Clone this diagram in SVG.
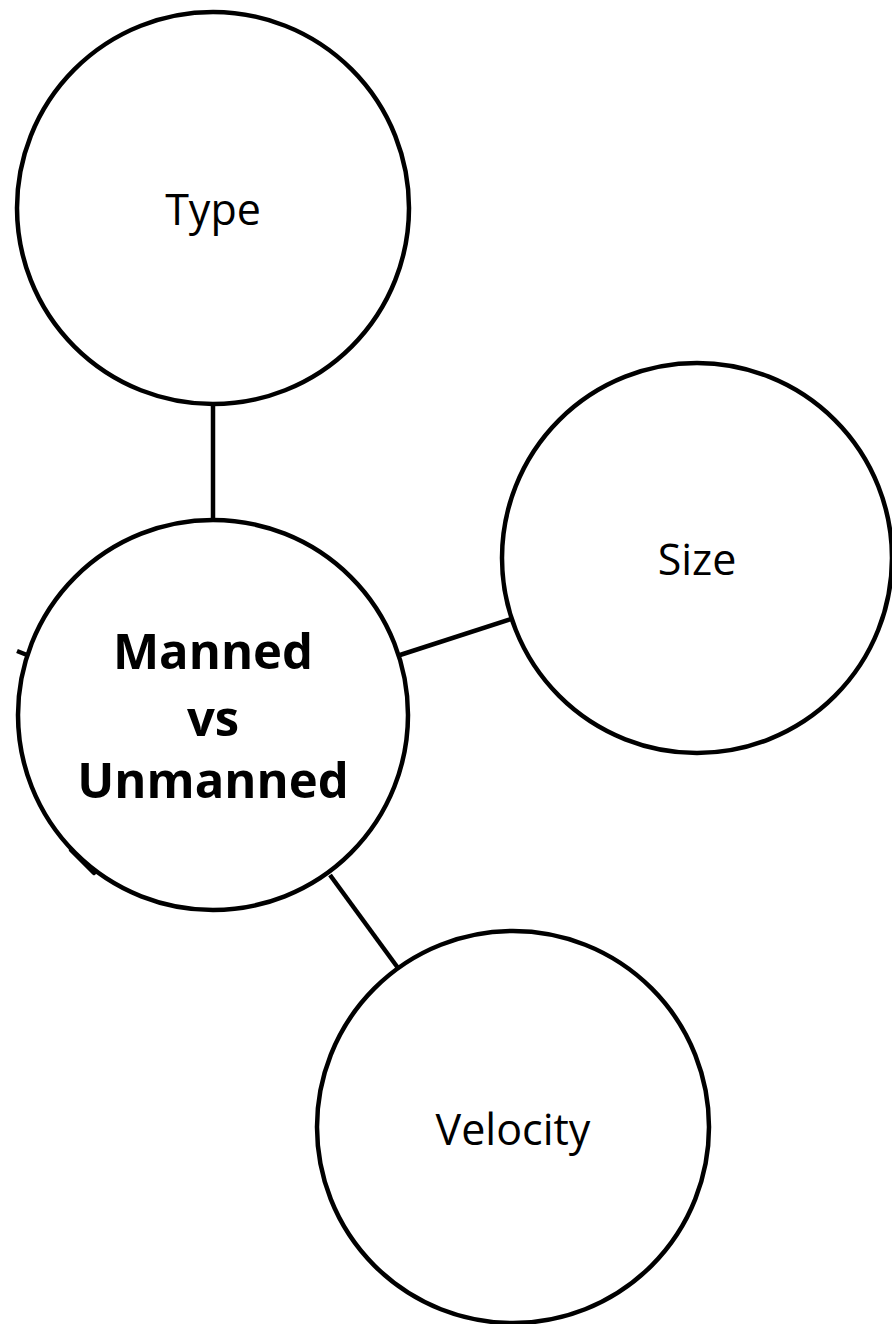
<svg xmlns="http://www.w3.org/2000/svg" width="892" height="1324" viewBox="0 0 892 1324">
<style>
.n{fill:#fff;stroke:#000;stroke-width:4.5}
.c{stroke:#000;stroke-width:4.5;fill:none}
.t{font-family:"Open Sans","Liberation Sans",sans-serif;font-size:43px;fill:#000;text-anchor:middle}
.b{font-family:"Open Sans","Liberation Sans",sans-serif;font-size:49px;font-weight:bold;fill:#000;text-anchor:middle}
</style>
<rect width="892" height="1324" fill="#fff"/>
<g id="connectors">
<line class="c" x1="213" y1="404" x2="213" y2="521"/>
<line class="c" x1="400" y1="655" x2="511" y2="619"/>
<line class="c" x1="330" y1="875" x2="398" y2="968"/>
<line class="c" x1="17" y1="651" x2="27" y2="655"/>
</g>
<g id="type"><circle class="n" cx="213" cy="208" r="196"/><text class="t" x="213" y="225">Type</text></g>
<g id="size"><circle class="n" cx="697" cy="558" r="195"/><text class="t" x="697" y="575">Size</text></g>
<g id="velocity"><circle class="n" cx="513" cy="1127" r="196"/><text class="t" x="513" y="1145">Velocity</text></g>
<g id="center"><circle class="n" cx="213" cy="715" r="195"/>
<line class="c" x1="71" y1="850" x2="94" y2="873" stroke-linecap="round"/>
<text class="b" x="213" y="669">Manned</text>
<text class="b" x="213" y="736">vs</text>
<text class="b" x="213" y="798">Unmanned</text></g>
</svg>
